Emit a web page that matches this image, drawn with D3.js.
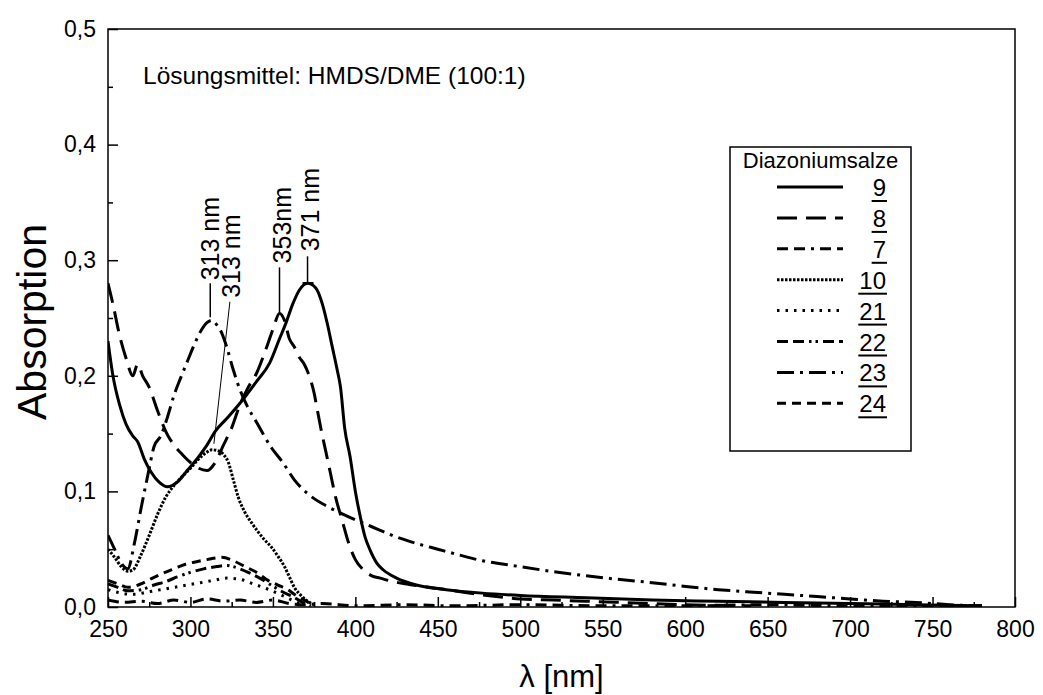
<!DOCTYPE html>
<html><head><meta charset="utf-8">
<script src="https://cdn.jsdelivr.net/npm/d3@7"></script>
<style>
html,body{margin:0;padding:0;background:#fff;}
text{font-family:"Liberation Sans",Arial,Helvetica,sans-serif;fill:#000;}
</style></head>
<body><svg id="chart" width="1043" height="695"></svg>
<script>
// ---------- data ----------
const xTicks = [250,300,350,400,450,500,550,600,650,700,750,800];
const yTicks = [0,0.1,0.2,0.3,0.4,0.5];
const yTickLabels = ["0,0","0,1","0,2","0,3","0,4","0,5"];
const seriesNames = ["9","8","7","10","21","22","23","24"];

const wl9  = [250,253,257,261,265,268,272,276,281,286,292,298,305,310,315,322,331,340,348,354,358,362,366,371,376,380,383,386,389,391,393.5,396.8,400,403,406,409,413,417,425,437,455,477,500,540,580,620,660,700,740,780];
const abs9 = [0.23,0.20,0.175,0.158,0.148,0.143,0.128,0.117,0.108,0.104,0.108,0.118,0.13,0.14,0.152,0.163,0.178,0.195,0.211,0.232,0.246,0.262,0.274,0.280,0.276,0.262,0.245,0.225,0.205,0.19,0.155,0.13,0.1,0.078,0.06,0.049,0.038,0.032,0.025,0.019,0.015,0.012,0.010,0.008,0.006,0.005,0.004,0.003,0.002,0.001];

const wl8  = [250,253,257,261,265,268,271,275,280,285,290,295,300,305,310,315,320,325,330,335,340,345,350,354,357,360,363,366,369,372,375,377,379,382,385,388,392,396,400,405,410,415,420,430,440,460,480,500,520,540,560,600,640];
const abs8 = [0.28,0.262,0.235,0.215,0.2,0.21,0.2,0.19,0.17,0.152,0.14,0.132,0.125,0.12,0.118,0.125,0.14,0.155,0.175,0.19,0.202,0.22,0.24,0.254,0.248,0.232,0.225,0.216,0.21,0.2,0.185,0.17,0.155,0.135,0.115,0.095,0.075,0.055,0.041,0.032,0.027,0.025,0.023,0.02,0.018,0.014,0.01,0.007,0.006,0.005,0.004,0.002,0.001];

const wl7  = [250,260,270,280,290,300,310,320,330,340,350,360,370,380,400,430,460,500,550,600,650,700,750,780];
const abs7 = [0.006,0.004,0.005,0.003,0.006,0.004,0.007,0.005,0.006,0.004,0.006,0.003,0.002,0.003,0.001,0.002,0.001,0.002,0.001,0.001,0.002,0.001,0.001,0.0];

const wl10  = [250,254,258,262,265,270,275,280,285,290,295,300,305,310,313,317,320,323,326,329,333,337,341,345,349,353,357,360,363,367,371,375];
const abs10 = [0.05,0.043,0.035,0.031,0.032,0.045,0.062,0.08,0.095,0.105,0.113,0.12,0.128,0.134,0.136,0.135,0.132,0.125,0.11,0.095,0.082,0.073,0.065,0.058,0.052,0.044,0.035,0.026,0.017,0.01,0.005,0.002];

const wl21  = [250,258,266,274,282,290,298,306,314,322,330,338,346,354,360,366];
const abs21 = [0.015,0.012,0.011,0.013,0.015,0.017,0.019,0.021,0.023,0.025,0.024,0.02,0.016,0.011,0.007,0.003];

const wl22  = [250,256,262,270,278,285,292,300,308,316,322,328,335,342,350,356,362,368,373];
const abs22 = [0.02,0.017,0.014,0.015,0.019,0.022,0.026,0.03,0.033,0.035,0.036,0.034,0.03,0.025,0.018,0.013,0.009,0.004,0.001];

const wl23  = [250,254,258,262,266,270,274,278,282,286,290,294,298,302,306,310,313,316,319,322,326,330,334,340,349,356,363,372,383,393,404,414,424,437,450,463,477,495,518,540,559,580,599,620,639,660,680,700,720,740,760,780];
const abs23 = [0.062,0.05,0.038,0.033,0.055,0.085,0.113,0.139,0.148,0.164,0.183,0.198,0.212,0.226,0.238,0.246,0.248,0.244,0.237,0.225,0.205,0.188,0.175,0.16,0.138,0.125,0.11,0.097,0.087,0.08,0.073,0.067,0.061,0.055,0.05,0.045,0.04,0.036,0.031,0.027,0.024,0.021,0.018,0.015,0.013,0.011,0.009,0.007,0.005,0.004,0.002,0.001];

const wl24  = [250,256,262,270,277,283,290,297,303,310,319,326,333,340,347,353,359,364,369,374];
const abs24 = [0.023,0.02,0.017,0.02,0.025,0.029,0.033,0.037,0.039,0.041,0.043,0.04,0.035,0.03,0.023,0.019,0.015,0.01,0.006,0.002];

const peakLabels = ["313 nm","313 nm","353nm","371 nm"];
const peakNm     = [312,313,354,371];
const peakAbs    = [0.248,0.136,0.254,0.280];

// ---------- layout ----------
const M={left:108,right:1015,top:29,bottom:607};
const svg=d3.select("#chart");
const x=d3.scaleLinear().domain([250,800]).range([M.left,M.right]);
const y=d3.scaleLinear().domain([0,0.5]).range([M.bottom,M.top]);

const styles = {
 "9":  {dash:null},
 "8":  {dash:"20,9"},
 "7":  {dash:"11,6,11,6,3,6"},
 "10": {dash:"2.5,1.5"},
 "21": {dash:"2.5,6"},
 "22": {dash:"11,5,11,5,2.5,4,2.5,5"},
 "23": {dash:"17,6,3,6"},
 "24": {dash:"9,6"}
};
const data = {
 "9":[wl9,abs9],"8":[wl8,abs8],"7":[wl7,abs7],"10":[wl10,abs10],
 "21":[wl21,abs21],"22":[wl22,abs22],"23":[wl23,abs23],"24":[wl24,abs24]
};

svg.append("clipPath").attr("id","clip").append("rect")
 .attr("x",M.left).attr("y",M.top).attr("width",M.right-M.left).attr("height",M.bottom-M.top);

const line=d3.line().x(d=>x(d[0])).y(d=>y(d[1])).curve(d3.curveMonotoneX);
const gLines=svg.append("g").attr("clip-path","url(#clip)");
seriesNames.forEach(n=>{
  const [w,a]=data[n];
  gLines.append("path").datum(w.map((v,i)=>[v,a[i]]))
   .attr("d",line).attr("fill","none").attr("stroke","#000")
   .attr("stroke-width",3).attr("stroke-dasharray",styles[n].dash)
   .attr("stroke-linejoin","round");
});

// frame
svg.append("rect").attr("x",M.left).attr("y",M.top).attr("width",M.right-M.left).attr("height",M.bottom-M.top)
 .attr("fill","none").attr("stroke","#000").attr("stroke-width",1.5);

// axes (ticks inside)
const xAxis=d3.axisBottom(x).tickValues(xTicks).tickSize(-10).tickPadding(14).tickFormat(d3.format("d"));
svg.append("g").attr("transform",`translate(0,${M.bottom})`).call(xAxis);
const xMinor=d3.axisBottom(x).tickValues(d3.range(275,800,50)).tickSize(-5).tickFormat("");
svg.append("g").attr("transform",`translate(0,${M.bottom})`).call(xMinor);
const yAxis=d3.axisLeft(y).tickValues(yTicks).tickSize(-10).tickPadding(12).tickFormat((d,i)=>yTickLabels[i]);
svg.append("g").attr("transform",`translate(${M.left},0)`).call(yAxis);
const yMinor=d3.axisLeft(y).tickValues(d3.range(0.05,0.5,0.1)).tickSize(-5).tickFormat("");
svg.append("g").attr("transform",`translate(${M.left},0)`).call(yMinor);
svg.selectAll(".domain").remove();
svg.selectAll(".tick line").attr("stroke","#000").attr("stroke-width",1.5);
svg.selectAll(".tick text").style("font-size","23px").attr("fill","#000");

// axis titles
svg.append("text").attr("transform",`translate(46,${(M.top+M.bottom)/2+4}) rotate(-90)`)
 .attr("text-anchor","middle").style("font-size","41px").text("Absorption");
svg.append("text").attr("x",(M.left+M.right)/2).attr("y",687)
 .attr("text-anchor","middle").style("font-size","31px").text("λ [nm]");

// solvent note
svg.append("text").attr("x",143).attr("y",84).style("font-size","24.5px").text("Lösungsmittel: HMDS/DME (100:1)");

// peak annotations
const ann=svg.append("g");
ann.append("line").attr("x1",x(peakNm[0])).attr("x2",x(peakNm[0])).attr("y1",y(peakAbs[0])-3).attr("y2",y(peakAbs[0])-37).attr("stroke","#000").attr("stroke-width",1.5);
ann.append("text").attr("transform",`translate(${x(peakNm[0])+9},${y(peakAbs[0])-40}) rotate(-90)`).style("font-size","25px").text(peakLabels[0]);
ann.append("line").attr("x1",x(peakNm[1])+2).attr("x2",x(peakNm[1])+18).attr("y1",y(peakAbs[1])-6).attr("y2",y(peakAbs[1])-148).attr("stroke","#000").attr("stroke-width",1);
ann.append("text").attr("transform",`translate(${x(peakNm[1])+28},${y(peakAbs[1])-152}) rotate(-90)`).style("font-size","25px").text(peakLabels[1]);
ann.append("line").attr("x1",x(peakNm[2])).attr("x2",x(peakNm[2])).attr("y1",y(peakAbs[2])).attr("y2",y(peakAbs[2])-46).attr("stroke","#000").attr("stroke-width",1.5);
ann.append("text").attr("transform",`translate(${x(peakNm[2])+11},${y(peakAbs[2])-50}) rotate(-90)`).style("font-size","25px").text(peakLabels[2]);
ann.append("line").attr("x1",x(peakNm[3])).attr("x2",x(peakNm[3])).attr("y1",y(peakAbs[3])).attr("y2",y(peakAbs[3])-27).attr("stroke","#000").attr("stroke-width",1.5);
ann.append("line").attr("x1",x(peakNm[3])-5).attr("x2",x(peakNm[3])+6).attr("y1",y(peakAbs[3])).attr("y2",y(peakAbs[3])).attr("stroke","#000").attr("stroke-width",2.5);
ann.append("text").attr("transform",`translate(${x(peakNm[3])+11},${y(peakAbs[3])-32}) rotate(-90)`).style("font-size","25px").text(peakLabels[3]);

// legend
const L={x:730,y:147,w:181,h:304};
const lg=svg.append("g");
lg.append("rect").attr("x",L.x).attr("y",L.y).attr("width",L.w).attr("height",L.h).attr("fill","#fff").attr("stroke","#000").attr("stroke-width",1.5);
lg.append("text").attr("x",L.x+L.w/2).attr("y",L.y+21).attr("text-anchor","middle").style("font-size","22px").text("Diazoniumsalze");
seriesNames.forEach((n,i)=>{
  const cy=L.y+40+i*30.9;
  lg.append("line").attr("x1",777).attr("x2",843).attr("y1",cy).attr("y2",cy)
    .attr("stroke","#000").attr("stroke-width",3).attr("stroke-dasharray",styles[n].dash);
  const t=lg.append("text").attr("x",886).attr("y",cy+9).attr("text-anchor","end").style("font-size","24px").text(n);
  const bb=t.node().getBBox();
  lg.append("line").attr("x1",bb.x-1).attr("x2",bb.x+bb.width+1).attr("y1",cy+14).attr("y2",cy+14).attr("stroke","#000").attr("stroke-width",2);
});
</script></body></html>
